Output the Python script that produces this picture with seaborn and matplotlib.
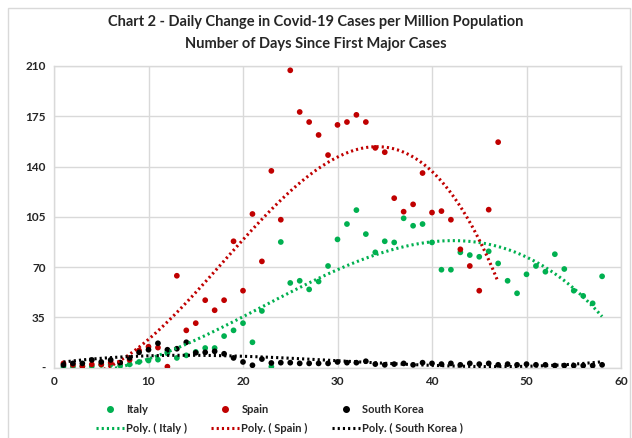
import numpy as np
import pandas as pd
import matplotlib
matplotlib.use("Agg")
import matplotlib.pyplot as plt
from matplotlib.lines import Line2D
from matplotlib.patches import Rectangle
import seaborn as sns

days_italy = list(range(1, 59))
italy = [0.7, 0.7, 1.0, 1.0, 2.0, 2.3, 1.5, 2.3, 4.0, 5.0,
         5.6, 10.0, 6.8, 8.6, 11.0, 13.7, 13.7, 22.0, 26.0, 31.0,
         17.7, 39.5, 0.7, 87.5, 59.0, 60.5, 54.5, 60.0, 70.8, 89.3,
         100.0, 109.7, 93.0, 80.3, 88.0, 87.2, 104.0, 98.8, 100.0, 87.2,
         68.2, 68.2, 80.3, 78.4, 77.2, 81.0, 72.6, 60.5, 51.8, 65.0,
         70.8, 66.8, 79.0, 68.7, 53.6, 50.0, 44.8, 63.6]

days_spain = list(range(1, 48))
spain = [3.0, 2.0, 1.0, 2.3, 2.3, 3.5, 3.5, 5.4, 12.0, 14.6,
         14.0, 0.7, 64.0, 26.0, 31.0, 47.0, 40.0, 47.0, 88.0, 53.6,
         107.0, 74.0, 137.0, 103.0, 207.0, 178.0, 171.0, 162.0, 148.0, 169.0,
         171.0, 176.0, 171.0, 153.0, 150.0, 118.0, 108.6, 113.7, 135.5, 108.0,
         109.0, 103.0, 82.4, 70.8, 53.6, 110.0, 157.0]

days_korea = list(range(1, 59))
korea = [1.9, 3.0, 3.0, 5.4, 4.0, 5.4, 3.5, 6.8, 10.7, 12.5,
         17.0, 12.5, 13.2, 17.7, 10.4, 10.7, 11.4, 9.7, 6.8, 4.0,
         1.7, 6.0, 3.3, 3.5, 3.5, 3.0, 3.0, 3.0, 3.0, 4.0,
         3.5, 3.5, 4.5, 2.5, 2.0, 2.5, 3.0, 2.0, 3.5, 3.0,
         2.5, 3.0, 2.0, 3.0, 2.5, 3.0, 2.0, 2.5, 2.0, 2.5,
         2.0, 2.0, 1.5, 1.5, 1.5, 1.5, 1.5, 2.0]

countries = ["Italy", "Spain", "South Korea"]
colors = {"Italy": "#00B050", "Spain": "#C00000", "South Korea": "#000000"}

df = pd.concat([
    pd.DataFrame({"day": days_italy, "value": italy, "country": "Italy"}),
    pd.DataFrame({"day": days_spain, "value": spain, "country": "Spain"}),
    pd.DataFrame({"day": days_korea, "value": korea, "country": "South Korea"}),
], ignore_index=True)

sns.set_theme(style="white")
plt.rcParams["font.family"] = ["Lato", "DejaVu Sans"]

fig = plt.figure(figsize=(6.32, 4.38), dpi=100)
ax = fig.add_axes([54 / 632, 1 - 367.7 / 438, (621 - 54) / 632, (367.7 - 66) / 438])

poly_order = 3
for c in countries:
    sub = df[df["country"] == c]
    sns.scatterplot(data=sub, x="day", y="value", color=colors[c], s=17,
                    edgecolor="none", ax=ax, zorder=3, legend=False)
for c in countries:
    sub = df[df["country"] == c]
    sns.regplot(data=sub, x="day", y="value", order=poly_order, ci=None,
                scatter=False, ax=ax, color=colors[c],
                line_kws=dict(lw=2.2, linestyle=(0, (0.7, 1.0)), zorder=4))

ax.set_xlim(0, 60)
ax.set_ylim(0, 210)
ax.set_xticks(range(0, 61, 10))
ax.set_yticks(range(0, 211, 35))
ax.set_yticklabels(["-"] + [str(v) for v in range(35, 211, 35)])
ax.grid(True, color="#d9d9d9", lw=1)
ax.set_axisbelow(True)
for s in ax.spines.values():
    s.set_color("#d9d9d9")
    s.set_linewidth(1)
ax.tick_params(axis="both", length=0, labelsize=8.5, pad=6)
for lab in ax.get_xticklabels() + ax.get_yticklabels():
    lab.set_fontweight("bold")
ax.set_xlabel("")
ax.set_ylabel("")

fig.text(0.5, 1 - 22 / 438, "Chart 2 - Daily Change in Covid-19 Cases per Million Population",
         ha="center", va="center", fontsize=10.5, fontweight="bold")
fig.text(0.5, 1 - 44 / 438, "Number of Days Since First Major Cases",
         ha="center", va="center", fontsize=10.5, fontweight="bold")

handles, labels = [], []
for c in countries:
    handles.append(Line2D([], [], marker="o", ls="none", color=colors[c], markersize=4))
    labels.append(c)
    handles.append(Line2D([], [], color=colors[c], lw=2.2, linestyle=(0, (0.7, 1.0))))
    labels.append(f"Poly. ( {c} )")
leg = fig.legend(handles, labels, ncol=3, loc="center left",
                 bbox_to_anchor=(96 / 632, 1 - 419 / 438),
                 frameon=False, fontsize=8, handlelength=2.5, handletextpad=0.2,
                 columnspacing=2.2, labelspacing=0.65, borderpad=0, borderaxespad=0)
for t in leg.get_texts():
    t.set_fontweight("bold")

fig.patches.append(Rectangle((8 / 632, -0.01), 622 / 632, 1 - 8 / 438 + 0.01,
                             transform=fig.transFigure, fill=False,
                             edgecolor="#d9d9d9", lw=1))

fig.savefig("out.png", dpi=100)
